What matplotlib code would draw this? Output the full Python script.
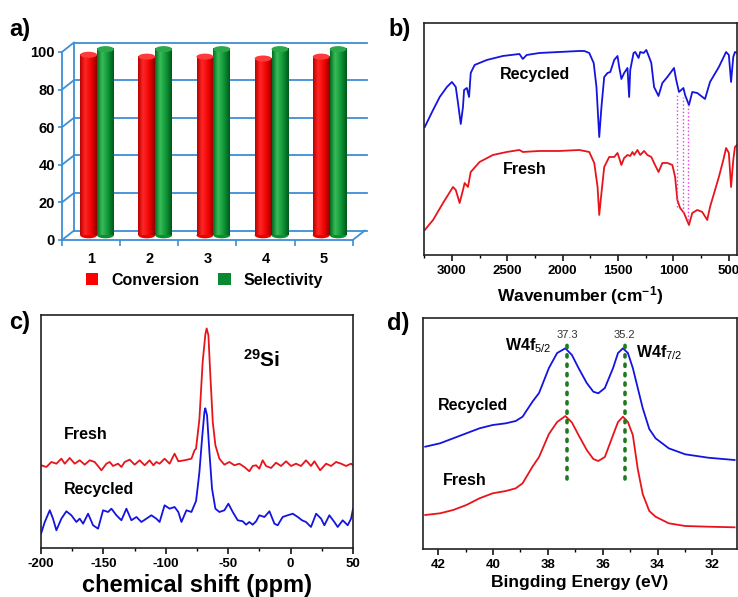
import numpy as np
import matplotlib
matplotlib.use('Agg')
import matplotlib.pyplot as plt
from matplotlib.patches import Ellipse, Patch

plt.rcParams['font.family'] = ['Liberation Sans', 'DejaVu Sans']
plt.rcParams['font.weight'] = 'bold'
plt.rcParams['axes.labelweight'] = 'bold'
plt.rcParams['axes.unicode_minus'] = False
plt.rcParams['mathtext.fontset'] = 'custom'
plt.rcParams['mathtext.rm'] = 'Liberation Sans:weight=normal'
plt.rcParams['mathtext.bf'] = 'Liberation Sans:bold'
plt.rcParams['mathtext.it'] = 'Liberation Sans:italic'

# a) catalyst recycling
runs = [1, 2, 3, 4, 5]
conversion = [96, 95, 95, 94, 95]
selectivity = [99, 99, 99, 99, 99]
a_yticks = [0, 20, 40, 60, 80, 100]

# b) FT-IR, transmittance in arbitrary units
ir_wn_recycled = [3245, 3170, 3110, 3045, 3000, 2965, 2945, 2920, 2900, 2890, 2865, 2845,
                  2830, 2795, 2685, 2540, 2390, 2360, 2325, 2210, 2030, 1850, 1805, 1760,
                  1720, 1695, 1670, 1650, 1625, 1595, 1570, 1535, 1505, 1490, 1470, 1445,
                  1415, 1400, 1390, 1360, 1345, 1315, 1300, 1270, 1245, 1220, 1200, 1175,
                  1135, 1100, 1055, 995, 975, 950, 910, 895, 860, 830, 785, 715, 670, 590,
                  525, 500, 480, 460, 445, 426]
ir_recycled = [128, 145, 158, 168, 173, 168, 152, 131, 148, 165, 167, 158,
               182, 190, 195, 199, 201, 196, 200, 202, 203, 204, 204, 202,
               192, 168, 118, 148, 178, 182, 183, 195, 199, 188, 176, 182,
               187, 158, 185, 202, 203, 197, 203, 202, 205, 198, 192, 168,
               159, 172, 178, 187, 175, 163, 167, 160, 150, 163, 162, 156, 173, 188,
               203, 200, 173, 198, 203, 202]
ir_wn_fresh = [3245, 3170, 3080, 2990, 2965, 2930, 2900, 2885, 2855, 2830, 2750, 2630,
               2505, 2390, 2360, 2210, 2030, 1850, 1760, 1715, 1685, 1670, 1650, 1625,
               1580, 1535, 1505, 1490, 1470, 1445, 1415, 1390, 1370, 1355, 1325, 1300,
               1265, 1235, 1200, 1175, 1135, 1100, 1055, 1010, 985, 965, 940, 905, 860,
               830, 785, 740, 695, 670, 590, 550, 525, 500, 480, 460, 445, 426]
ir_fresh = [25, 35, 52, 68, 65, 52, 65, 72, 68, 83, 93, 100,
            103, 105, 103, 104, 104, 105, 103, 92, 68, 40, 62, 88,
            98, 98, 102, 97, 90, 97, 100, 99, 103, 100, 105, 100,
            104, 100, 98, 92, 83, 92, 92, 90, 78, 55, 47, 42, 30,
            42, 45, 43, 35, 48, 78, 95, 107, 102, 68, 95, 108, 110]
ir_marks = [965, 915, 870]
ir_marks_top = [162, 158, 153]
ir_marks_bottom = [48, 43, 35]

# c) 29Si NMR, intensity in arbitrary units
nmr_ppm_fresh = [-200, -195.7, -191.7, -187.7, -183.7, -181, -177, -173, -169, -165, -161,
                 -157, -151.6, -147.6, -145, -142.3, -138.3, -135.6, -133, -129, -125,
                 -121, -117, -113, -110, -107.6, -105, -101, -97, -93, -90, -85, -79.5,
                 -77, -75.8, -73.1, -70.5, -68.3, -67.3, -65.9, -64.6, -62.4, -60.3,
                 -57.1, -53.1, -49.1, -45.1, -41.1, -37.1, -33.1, -30.4, -27.7, -25.1,
                 -22.4, -19.7, -15.7, -11.7, -7.7, -3.7, 0.3, 4.3, 8.3, 12.3, 16.3, 19,
                 23.6, 28.4, 32.4, 36.4, 40.4, 44.4, 48.4, 50]
nmr_fresh = [82.7, 81, 86, 84.3, 89.3, 84.3, 90, 84.3, 87.7, 83.3, 87.7,
             86, 77.7, 84.3, 86, 82, 84.3, 81, 86, 88.3, 83.3,
             87.7, 82.7, 87.7, 82.7, 86, 84.3, 89.3, 84.3, 94.3, 86.7, 87.7, 89.3,
             97.7, 99.3, 129, 186, 214, 219.5, 212.7, 179, 126, 102.7,
             89.3, 83.3, 86, 82.7, 84.3, 81, 76.7, 82, 82.7, 79.3,
             87.7, 82, 80, 85.3, 82, 86.7, 82, 84.3, 82, 87.7, 82, 86.7,
             77.7, 84.3, 82, 86, 84.3, 82, 84.3, 82.7]
nmr_ppm_recycled = [-200, -197, -193, -190.4, -187.7, -183.7, -179.7, -175.7, -171.7, -169,
                    -166.3, -162.3, -158.3, -154.3, -150.3, -146.3, -143.6, -139.6, -135.6,
                    -131.6, -127.6, -123.6, -119.6, -115.6, -111.6, -107.6, -105, -101, -97,
                    -93, -90, -87.5, -83.5, -79.5, -75.8, -74, -73.1, -71, -69.1, -68.4, -67,
                    -65.1, -63, -60.3, -57.1, -53.1, -49.9, -46.4, -42.4, -38.4, -35.7,
                    -33.1, -30.4, -27.7, -25.1, -21, -17, -13, -10.4, -6.4, -2.4, 1.7, 5.7,
                    9.1, 12.3, 16.3, 20.4, 24.4, 27, 31, 35, 37.7, 41.7, 45.7, 48.4, 50]
nmr_recycled = [14.3, 26, 37.7, 29.3, 17.7, 29.3, 36.7, 32.7, 26, 29.3,
                24.3, 34.3, 22.7, 19.3, 37.7, 36, 39.3, 32.7, 27.7,
                39.3, 27.7, 31, 26, 29.3, 32.7, 29.3, 26, 42.7, 39.3,
                41, 36, 26, 37.7, 36, 47, 66, 76, 109.3, 136, 139.7, 132.7,
                96, 59.3, 39.3, 36, 37.7, 44.3, 36, 27.7, 26.7, 23.3,
                26, 23.3, 26.7, 32.7, 31, 36.7, 24.3, 22.7, 31, 32.7, 34.3, 31,
                27.7, 26, 21, 34.3, 29.3, 22.7, 32.7, 26, 21, 27.7, 22.7, 29.3, 39.3]

# d) W4f XPS, intensity in arbitrary units
xps_ev = [42.47, 41.93, 41.45, 40.97, 40.49, 40.01, 39.53, 39.17, 38.92, 38.56, 38.32,
          37.96, 37.66, 37.36, 37.12, 36.88, 36.58, 36.34, 36.16, 35.92, 35.62, 35.44,
          35.26, 35.08, 34.9, 34.72, 34.54, 34.3, 34.07, 33.59, 32.99, 32.15, 31.19]
xps_recycled = [102.3, 105.7, 110.7, 115.7, 120.7, 124, 125.7, 128, 132.3, 147.3, 156,
                181, 196, 200.7, 194, 181, 166, 157.3, 155.7, 161, 181, 196,
                200.7, 196, 181, 161, 141, 120, 110.7, 100.7, 94.7, 91.3, 89]
xps_fresh = [34, 35.7, 39, 44, 50.7, 55.7, 58, 60.7, 65.7, 82.3, 92,
             115, 127, 133, 126.5, 114, 99, 90, 88, 92, 114, 127,
             132.3, 127, 114, 80, 55, 38, 32.3, 25.7, 23, 22.3, 21.7]
xps_peaks = [37.3, 35.2]
xps_peak_labels = ['37.3', '35.2']

RED = '#e8141c'
BLUE = '#1414e0'
GRID = '#3d8fd6'

fig = plt.figure(figsize=(7.38, 5.97), dpi=100)


def spectrum_axes(ax):
    for s in ax.spines.values():
        s.set_linewidth(1.2)
        s.set_color('#222222')
    ax.set_yticks([])
    ax.tick_params(axis='x', which='major', direction='out', length=4, width=1.1,
                   labelsize=9.5, pad=3)
    ax.tick_params(axis='x', which='minor', direction='out', length=2.5, width=1.0)


# ---- a) bar chart drawn as a simple 3D box
axa = fig.add_axes([0.084, 0.598, 0.394, 0.315])
dx, dy = 0.206, 5.0
for v in a_yticks:
    axa.plot([0.5 + dx, 5.75], [v + dy, v + dy], color=GRID, lw=1.3, clip_on=False, zorder=1)
    axa.plot([0.5, 0.5 + dx], [v, v + dy], color=GRID, lw=1.3, clip_on=False, zorder=1)
axa.plot([0.5 + dx, 0.5 + dx], [dy, 100 + dy], color=GRID, lw=1.3, clip_on=False, zorder=1)
axa.plot([5.5, 5.5 + dx], [0, dy], color=GRID, lw=1.3, clip_on=False, zorder=1)

bw = 0.29
stops = [0, 0.3, 0.7, 1]
red_cols = np.array([(0.72, 0, 0), (1, 0.15, 0.15), (0.93, 0, 0), (0.55, 0, 0)])
green_cols = np.array([(0.02, 0.42, 0.14), (0.22, 0.74, 0.34), (0.04, 0.56, 0.2), (0.0, 0.34, 0.1)])


def cylinder(ax, xc, val, cols, top_col):
    t = np.linspace(0, 1, 64)
    grad = np.stack([np.interp(t, stops, cols[:, k]) for k in range(3)], axis=-1)[None, :, :]
    base = dy / 2
    ax.add_patch(Ellipse((xc, base), bw, 3.2, facecolor=tuple(cols[2]), edgecolor='none',
                         clip_on=False, zorder=3))
    im = ax.imshow(grad, extent=[xc - bw / 2, xc + bw / 2, base, val + base],
                   aspect='auto', zorder=4, interpolation='bilinear')
    im.set_clip_on(False)
    ax.add_patch(Ellipse((xc, val + base), bw, 3.2, facecolor=top_col, edgecolor='none',
                         clip_on=False, zorder=5))


for r, c, s in zip(runs, conversion, selectivity):
    cylinder(axa, r - 0.145 + dx / 2, c, red_cols, '#ff3a3a')
    cylinder(axa, r + 0.145 + dx / 2, s, green_cols, '#2aa84a')

axa.set_xlim(0.5, 5.5)
axa.set_ylim(0, 100)
axa.set_yticks(a_yticks)
axa.set_xticks(runs)
axa.set_xticks([0.5, 1.5, 2.5, 3.5, 4.5, 5.5], minor=True)
axa.tick_params(axis='y', direction='out', length=3, color=GRID, width=1.2, labelsize=10.5, pad=2)
axa.tick_params(axis='x', which='major', length=0, labelsize=10.5, pad=9)
axa.tick_params(axis='x', which='minor', direction='out', length=4, color=GRID, width=1.2)
axa.spines['top'].set_visible(False)
axa.spines['right'].set_visible(False)
for s in ['left', 'bottom']:
    axa.spines[s].set_color(GRID)
    axa.spines[s].set_linewidth(1.3)
axa.set_facecolor('none')
axa.legend(handles=[Patch(facecolor='#ff0000', label='Conversion'),
                    Patch(facecolor='#0a8a30', label='Selectivity')],
           loc='center', bbox_to_anchor=(0.49, -0.215), ncol=2, frameon=False,
           fontsize=11.5, handlelength=0.8, handleheight=0.8, handletextpad=0.8,
           columnspacing=1.2)

# ---- b) FT-IR
axb = fig.add_axes([0.5745, 0.5729, 0.4242, 0.3886])
axb.plot(ir_wn_recycled, ir_recycled, color=BLUE, lw=1.3)
axb.plot(ir_wn_fresh, ir_fresh, color=RED, lw=1.3)
for x, t, b in zip(ir_marks, ir_marks_top, ir_marks_bottom):
    axb.plot([x, x], [b, t], color='#e040e0', lw=1.0, ls=':')
axb.set_xlim(3252, 426)
axb.set_ylim(0, 232)
axb.set_xticks([3000, 2500, 2000, 1500, 1000, 500])
axb.set_xticks([3250, 2750, 2250, 1750, 1250, 750], minor=True)
spectrum_axes(axb)
axb.set_xlabel(r'Wavenumber (cm$^{\mathbf{-1}}$)', fontsize=12.5, labelpad=5)
axb.text(2568, 180, 'Recycled', fontsize=11.5, va='center', ha='left')
axb.text(2541, 85, 'Fresh', fontsize=11.5, va='center', ha='left')

# ---- c) 29Si NMR
axc = fig.add_axes([0.0556, 0.0821, 0.4228, 0.3903])
axc.plot(nmr_ppm_fresh, nmr_fresh, color=RED, lw=1.3)
axc.plot(nmr_ppm_recycled, nmr_recycled, color=BLUE, lw=1.3)
axc.set_xlim(-200, 50)
axc.set_ylim(0, 233)
axc.set_xticks([-200, -150, -100, -50, 0, 50])
axc.set_xticks([-175, -125, -75, -25, 25], minor=True)
spectrum_axes(axc)
axc.set_xlabel('chemical shift (ppm)', fontsize=17, labelpad=3)
axc.text(-182, 113, 'Fresh', fontsize=11.5, va='center', ha='left')
axc.text(-182, 58, 'Recycled', fontsize=11.5, va='center', ha='left')
axc.text(-38, 188, r'$\mathbf{^{29}Si}$', fontsize=15, va='center', ha='left')

# ---- d) XPS W4f
axd = fig.add_axes([0.5732, 0.0804, 0.4255, 0.3869])
axd.plot(xps_ev, xps_recycled, color=BLUE, lw=1.3)
axd.plot(xps_ev, xps_fresh, color=RED, lw=1.3)
for x, lab in zip(xps_peaks, xps_peak_labels):
    axd.plot([x, x], [70, 205], color='#1f7a1f', lw=2.6, ls=(0, (0.6, 2.0)),
             dash_capstyle='round')
    axd.text(x, 214, lab, fontsize=8, fontweight='normal', ha='center', va='center',
             color='#333333')
axd.set_xlim(42.55, 31.1)
axd.set_ylim(0, 231)
axd.set_xticks([42, 40, 38, 36, 34, 32])
axd.set_xticks([41, 39, 37, 35, 33], minor=True)
spectrum_axes(axd)
axd.set_xlabel('Bingding Energy (eV)', fontsize=12.5, labelpad=3)
axd.text(42.0, 144, 'Recycled', fontsize=11.5, va='center', ha='left')
axd.text(41.82, 69, 'Fresh', fontsize=11.5, va='center', ha='left')
axd.text(37.85, 203, r'W4f$_{5/2}$', fontsize=11.5, va='center', ha='right')
axd.text(34.79, 196, r'W4f$_{7/2}$', fontsize=11.5, va='center', ha='left')

# panel letters
for x, y, lab in [(0.012, 0.95, 'a)'), (0.527, 0.95, 'b)'), (0.012, 0.46, 'c)'), (0.524, 0.458, 'd)')]:
    fig.text(x, y, lab, fontsize=17, va='center', ha='left')

fig.savefig('out.png', dpi=100)
